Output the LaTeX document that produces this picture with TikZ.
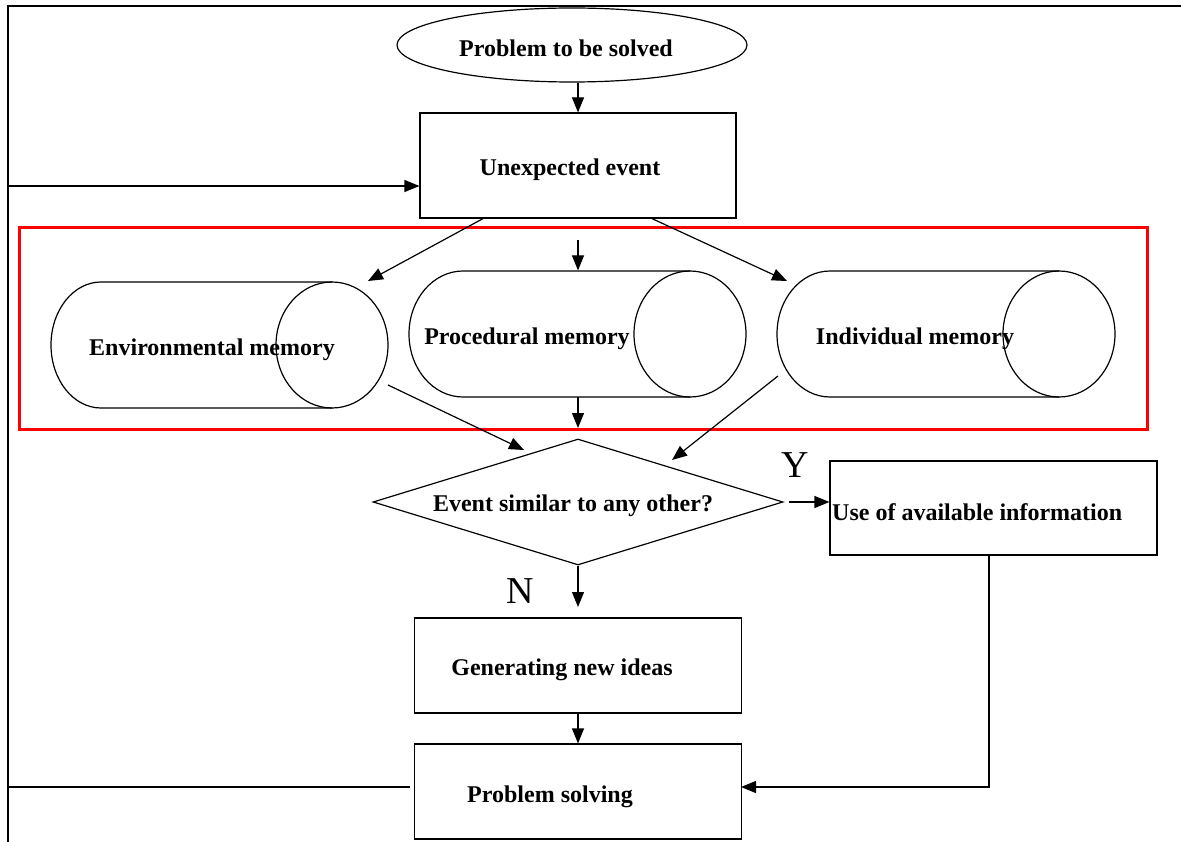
\documentclass[tikz,border=0pt]{standalone}
\usepackage{fontspec}
\setmainfont{Liberation Serif}
\usetikzlibrary{shapes.geometric,arrows.meta}

\tikzset{
  box/.style={draw,line width=1.2pt,inner sep=0pt},
  lbl/.style={font=\fontsize{24}{28}\selectfont\bfseries,inner sep=0pt},
  yn/.style={font=\fontsize{38}{42}\selectfont,inner sep=0pt},
  arr/.style={-{Triangle[length=15pt,width=12pt]},line width=1.2pt},
  frameline/.style={line width=2pt}
}

\begin{document}
\begin{tikzpicture}[x=1pt,y=-1pt]
\useasboundingbox (0,0) rectangle (1181,842);
\draw[frameline] (1181,6) -- (8,6) -- (8,842);

% top of the chart
\node[ellipse,draw,line width=1.2pt,minimum width=350pt,minimum height=74pt,inner sep=0pt] (prob) at (572,45) {};
\node[lbl] (probtxt) at (566,48) {Problem to be solved};
\node[box,minimum width=316pt,minimum height=105pt] (unexp) at (578,165.5) {};
\node[lbl] (unexptxt) at (570,170) {Unexpected event};

% memories
\draw[red,line width=3pt] (19,228) rectangle (1147,429);
\foreach \nm/\lcx/\rcx/\cy/\rxl in {env/101/332/345/50,proc/463/690/334/54,ind/830/1059/334/53}{
  \draw[line width=1.2pt] (\rcx,\cy-63) -- (\lcx,\cy-63)
    arc[start angle=270,end angle=90,x radius=\rxl,y radius=63] -- (\rcx,\cy+63);
  \node[ellipse,draw,line width=1.2pt,minimum width=112pt,minimum height=126pt,inner sep=0pt] (\nm end) at (\rcx,\cy) {};
}
\node[lbl] (envtxt) at (212,350) {Environmental memory};
\node[lbl] (proctxt) at (527,339) {Procedural memory};
\node[lbl] (indtxt) at (915,339) {Individual memory};

% decision
\node[diamond,draw,line width=1.2pt,aspect=3.25,minimum width=410pt,minimum height=126pt,inner sep=0pt] (dec) at (578,502) {};
\node[lbl] (dectxt) at (573,506) {Event similar to any other?};
\node[box,minimum width=327pt,minimum height=94pt] (use) at (993.5,508) {};
\node[lbl,anchor=west] (usetxt) at (832,512) {Use of available information};
\node[box,minimum width=327pt,minimum height=95pt] (gen) at (578,665.5) {};
\node[lbl] (gentxt) at (562,670) {Generating new ideas};
\node[box,minimum width=327pt,minimum height=95pt] (solve) at (578,791.5) {};
\node[lbl] (solvetxt) at (550,797) {Problem solving};
\node[yn] (yes) at (795,465) {Y};
\node[yn] (no) at (520,591) {N};

% free ends
\coordinate (loopin) at (8,186);
\coordinate (envin) at (368,281);
\coordinate (indin) at (787,281);
\coordinate (midtop) at (578,240);
\coordinate (envout) at (388,385);
\coordinate (procout) at (578,397);
\coordinate (indout) at (778,376);
\coordinate (decinl) at (524,450);
\coordinate (decinm) at (578,428);
\coordinate (decinr) at (672,460);
\coordinate (genin) at (578,607);
\coordinate (loopout) at (410,787);
\coordinate (loopl) at (8,787);
\coordinate (solvein) at (741,787);

% connectors
\draw[arr] (prob.south -| unexp.north) -- (unexp.north);
\draw[arr] (loopin) -- (loopin -| unexp.west);
\draw[arr] ([xshift=-95pt]unexp.south) -- (envin);
\draw[arr] ([xshift=74pt]unexp.south) -- (indin);
\draw[arr] (midtop) -- (midtop |- procend.north);
\draw[arr] (envout) -- (decinl);
\draw[arr] (procout) -- (decinm);
\draw[arr] (indout) -- (decinr);
\draw[arr] ([xshift=5pt]dec.east) -- (dec.east -| use.west);
\draw[arr] (dec.south) -- (genin);
\draw[arr] (gen.south) -- (solve.north);
\draw[line width=1.2pt] (loopout) -- (loopl);
\draw[arr] (use.south -| 989,0) |- (solvein);
\end{tikzpicture}
\end{document}
